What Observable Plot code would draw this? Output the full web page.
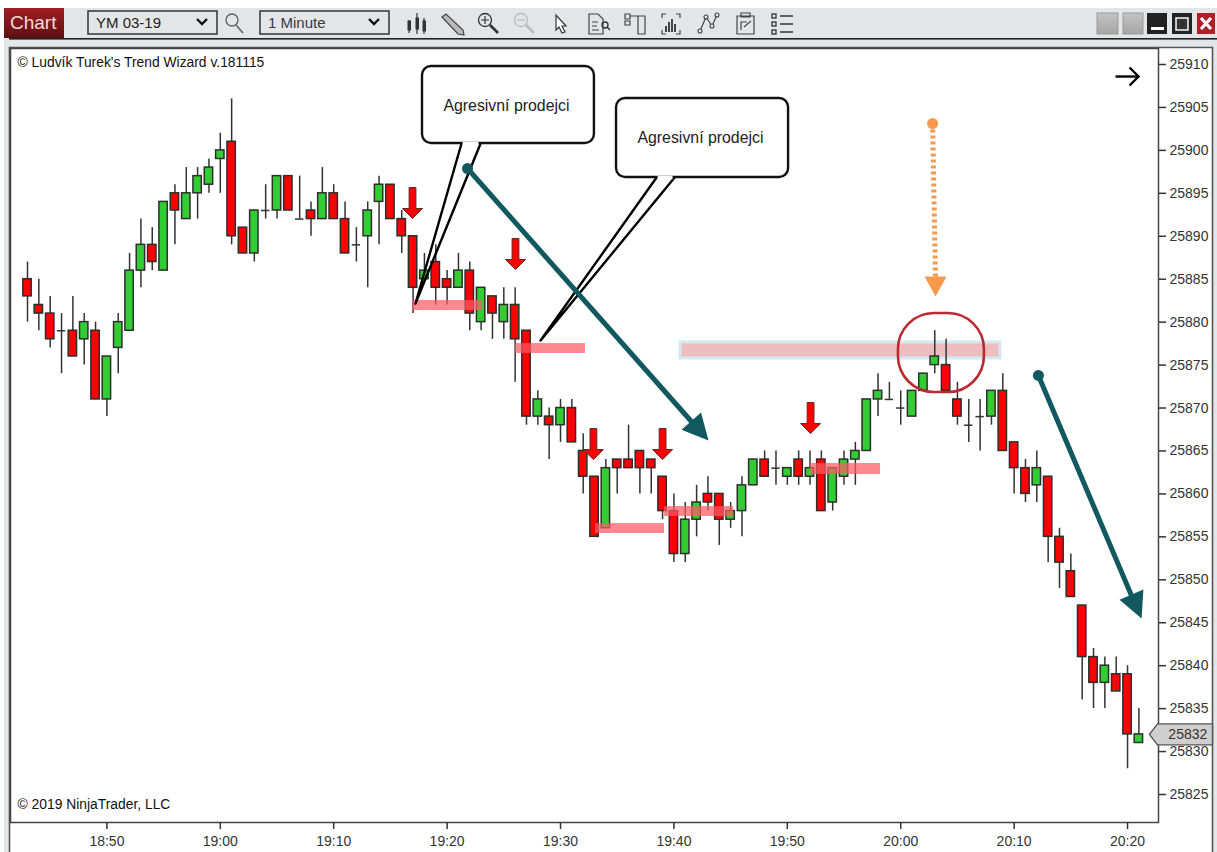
<!DOCTYPE html>
<html>
<head>
<meta charset="utf-8">
<script src="https://cdn.jsdelivr.net/npm/d3@7"></script>
<script src="https://cdn.jsdelivr.net/npm/@observablehq/plot@0.6"></script>
<style>
html,body{margin:0;padding:0;background:#fff;overflow:hidden;width:1217px;height:852px;font-family:"Liberation Sans",Arial,sans-serif}
#chrome{position:absolute;left:0;top:0;width:1217px;height:852px;pointer-events:none}
#plot{position:absolute;left:0;top:48px;width:1217px;height:804px}
#plot svg{display:block}
.t{position:absolute;white-space:nowrap;line-height:1}
</style>
</head>
<body>
<svg id="chrome" width="1217" height="852" xmlns="http://www.w3.org/2000/svg">
  <defs>
    <linearGradient id="btn" x1="0" y1="0" x2="0" y2="1"><stop offset="0" stop-color="#a01e22"/><stop offset="1" stop-color="#5e1013"/></linearGradient>
    <linearGradient id="gb" x1="0" y1="0" x2="0" y2="1"><stop offset="0" stop-color="#c4c4c4"/><stop offset="1" stop-color="#a4a4a4"/></linearGradient>
  </defs>
  <rect x="4" y="8" width="1213" height="40" fill="#e4e5e6"/>
  <rect x="4" y="38" width="1213" height="1.6" fill="#222"/>
  <rect x="4" y="8" width="60" height="30" fill="url(#btn)"/>
  <rect x="88" y="11" width="129" height="23" fill="none" stroke="#333" stroke-width="1.5"/>
  <rect x="260" y="11" width="129" height="23" fill="none" stroke="#333" stroke-width="1.5"/>
  <path d="M197 19l5 5l5-5M369 19l5 5l5-5" fill="none" stroke="#111" stroke-width="2.4"/>
  <circle cx="232" cy="20" r="6" fill="none" stroke="#666" stroke-width="1.4"/><path d="M236 25l7 8" stroke="#666" stroke-width="1.6"/>
  <g fill="#333" stroke="#333"><path d="M409 20v13M417 13v21M424 18v16" stroke-width="1.2"/><rect x="408" y="21" width="2.5" height="9"/><rect x="416" y="18" width="2.5" height="11"/><rect x="423" y="21" width="2.5" height="10"/></g>
  <path d="M442 17l4-3l17 16l1 5l-6-1z" fill="#bbb" stroke="#444" stroke-width="1.2"/>
  <circle cx="485" cy="20" r="6.5" fill="none" stroke="#333" stroke-width="1.3"/><path d="M481 20h8M485 16v8" stroke="#333" stroke-width="1.2"/><path d="M490 25l8 8" stroke="#333" stroke-width="2.6"/>
  <circle cx="521" cy="20" r="6.5" fill="none" stroke="#bbb" stroke-width="1.3"/><path d="M517 20h8" stroke="#bbb" stroke-width="1.2"/><path d="M526 25l8 8" stroke="#bbb" stroke-width="2.6"/>
  <path d="M556 15v15l3-3l3 6l3-1l-3-6h4z" fill="#fff" stroke="#333" stroke-width="1.2"/>
  <path d="M589 14h9l5 5v15h-14zM592 22h6M592 26h5M592 30h7" fill="none" stroke="#444" stroke-width="1.2"/><circle cx="605" cy="25" r="3" fill="none" stroke="#333" stroke-width="1.3"/><path d="M607 27l3 3" stroke="#333" stroke-width="1.5"/>
  <path d="M625 14h5v5h-5zM625 21h5v4h-5zM630 16h15v18h-7v-18" fill="none" stroke="#444" stroke-width="1.2"/>
  <path d="M666 14h-4v4M676 14h4v4M666 34h-4v-4M676 34h4v-4" fill="none" stroke="#444" stroke-width="1.2"/><path d="M666 32v-6M669 32v-10M672 32v-13M675 32v-8" stroke="#333" stroke-width="1.8"/>
  <path d="M700 31l6-14l6 9l5-11" fill="none" stroke="#444" stroke-width="1.2"/><g fill="#e4e5e6" stroke="#444" stroke-width="1.1"><circle cx="700" cy="31" r="2"/><circle cx="706" cy="17" r="2"/><circle cx="712" cy="26" r="2"/><circle cx="717" cy="15" r="2"/></g>
  <path d="M737 16h17v18h-17zM741 13h9v4h-9zM741 30v-8h6M744 27l7-6" fill="none" stroke="#444" stroke-width="1.2"/>
  <g fill="none" stroke="#333" stroke-width="1.3"><rect x="772" y="14" width="4" height="4"/><rect x="772" y="22" width="4" height="4"/><rect x="772" y="30" width="4" height="4"/><path d="M780 16h13M780 24h13M780 32h13"/></g>
  <rect x="1097" y="13" width="21" height="21" fill="url(#gb)" stroke="#999"/>
  <rect x="1123" y="13" width="20" height="21" fill="url(#gb)" stroke="#999"/>
  <rect x="1147" y="13" width="20" height="21" fill="#222"/><rect x="1151" y="27" width="13" height="3" fill="#fff"/>
  <rect x="1172" y="13" width="20" height="21" fill="#222"/><rect x="1176" y="18" width="12" height="12" fill="#333" stroke="#eee" stroke-width="1.6"/>
  <rect x="1197" y="13" width="18" height="21" fill="#ae2028"/><path d="M1201 18l10 11M1211 18l-10 11" stroke="#fff" stroke-width="3.2"/>
  <rect x="4" y="38" width="5" height="814" fill="#e4e5e6"/>
  <rect x="1213" y="48" width="4" height="804" fill="#e4e5e6"/>
  <path d="M9.5 852V47.5H1212.5V852" fill="none" stroke="#555" stroke-width="1.6"/>
</svg>
<div class="t" style="left:10px;top:13px;font-size:19px;color:#f2ddd8">Chart</div>
<div class="t" style="left:96px;top:15px;font-size:15px;color:#222">YM 03-19</div>
<div class="t" style="left:268px;top:15px;font-size:15px;color:#33394a">1 Minute</div>
<div id="plot"></div>
<script>
// Candles, one per minute from 18:43
const firstMinute = 18 * 60 + 43;
const bodyTops = [25885,25882,25881,25879,25879,25880,25879,25876,25880,25886,25889,25889,25894,25895,25895,25897,25898,25900,25901,25891,25893,25893,25897,25897,25892,25893,25895,25895,25892,25889,25893,25896,25896,25892,25890,25886,25887,25885,25886,25886,25884,25883,25882,25882,25879,25871,25869,25870,25870,25865,25862,25863,25864,25864,25865,25864,25862,25858,25857,25859,25860,25860,25858,25861,25864,25864,25863,25863,25864,25863,25864,25863,25864,25865,25871,25872,25871,25870,25872,25874,25876,25875,25871,25868,25869,25872,25872,25866,25863,25863,25862,25855,25851,25847,25841,25840,25839,25839,25832];
const bodyBottoms = [25883,25881,25878,25879,25876,25878,25871,25871,25877,25879,25886,25887,25886,25893,25892,25895,25896,25899,25890,25888,25888,25893,25893,25893,25892,25892,25892,25892,25888,25889,25890,25894,25892,25890,25884,25885,25884,25884,25884,25881,25880,25881,25880,25878,25869,25869,25868,25868,25866,25862,25855,25856,25863,25863,25863,25863,25858,25853,25853,25857,25859,25857,25857,25858,25861,25862,25863,25862,25862,25862,25858,25859,25862,25864,25865,25871,25871,25870,25869,25872,25875,25872,25869,25868,25869,25869,25865,25863,25860,25861,25855,25852,25848,25841,25838,25838,25837,25832,25831];
const highs = [25887,25885,25883,25881,25883,25881,25880,25876,25881,25888,25892,25891,25894,25896,25898,25898,25899,25902,25906,25891,25893,25896,25897,25897,25897,25894,25898,25896,25894,25891,25894,25897,25896,25893,25890,25888,25889,25886,25888,25887,25884,25883,25884,25884,25879,25872,25870,25871,25871,25867,25862,25864,25864,25868,25865,25864,25862,25860,25859,25861,25862,25860,25859,25862,25864,25865,25865,25863,25865,25865,25865,25863,25865,25866,25871,25874,25873,25872,25872,25874,25879,25878,25873,25871,25871,25872,25874,25866,25864,25865,25862,25856,25853,25847,25842,25841,25841,25840,25835];
const lows = [25880,25879,25877,25874,25876,25875,25871,25869,25874,25879,25884,25886,25886,25889,25892,25892,25895,25895,25889,25888,25887,25892,25892,25893,25892,25890,25892,25892,25888,25887,25884,25889,25892,25888,25881,25885,25882,25882,25884,25879,25879,25878,25878,25873,25868,25868,25864,25866,25866,25860,25855,25856,25860,25863,25860,25860,25857,25852,25852,25855,25858,25854,25856,25855,25861,25862,25861,25861,25861,25861,25858,25858,25861,25861,25865,25869,25871,25868,25869,25872,25874,25872,25868,25866,25865,25868,25865,25860,25859,25859,25852,25849,25848,25836,25835,25835,25837,25828,25831];
// 0 red, 1 green, 2 doji
const kinds = [0,0,0,2,0,1,0,1,1,1,1,0,1,0,1,1,1,1,0,0,1,2,1,0,2,0,1,0,0,2,1,1,0,0,0,1,0,0,1,0,1,0,1,0,0,1,0,1,0,0,0,1,0,0,0,0,0,0,1,1,0,0,1,1,1,0,2,1,0,1,0,1,1,1,1,1,2,2,1,1,1,0,0,2,2,1,0,0,0,1,0,0,0,0,0,1,0,0,1];
const candles = kinds.map((kind, i) => ({
  m: firstMinute + i, kind,
  top: bodyTops[i], bottom: bodyBottoms[i], high: highs[i], low: lows[i],
  left: firstMinute + i - 0.37, right: firstMinute + i + 0.37
}));

// Axes
const timeTicks = [1130,1140,1150,1160,1170,1180,1190,1200,1210,1220];
const priceTicks = [25910,25905,25900,25895,25890,25885,25880,25875,25870,25865,25860,25855,25850,25845,25840,25835,25830,25825];
const lastPrice = 25832;
const fmtTime = m => `${Math.floor(m / 60)}:${String(m % 60).padStart(2, "0")}`;

// Annotations, in chart coordinates (minute, price)
const zones = [
  {x1:1156.95,x2:1163.12,y1:25881.35,y2:25882.52},
  {x1:1166.03,x2:1172.2,y1:25876.35,y2:25877.51},
  {x1:1173.08,x2:1179.17,y1:25855.39,y2:25856.55},
  {x1:1179.17,x2:1185.26,y1:25857.37,y2:25858.53},
  {x1:1192.05,x2:1198.22,y1:25862.26,y2:25863.54}
];
const band = [{x1:1180.58,x2:1208.8,y1:25875.77,y2:25877.63}];
const ring = [{x1:1199.8,x2:1207.38,y1:25871.8,y2:25881}];
const redArrows = [
  {m:1156.95,v:25892.07},{m:1166.03,v:25886.13},{m:1172.9,v:25864},{m:1179,v:25864},{m:1192.05,v:25867.03}
];
const bubbles = [
  {x1:1157.83,x2:1172.99,y1:25900.8,y2:25909.77,tx:1165.23,ty:25905.23,label:"Agresivní prodejci"},
  {x1:1174.94,x2:1190.11,y1:25896.84,y2:25906.04,tx:1182.34,ty:25901.5,label:"Agresivní prodejci"}
];
const tails = [
  [{m:1161.27,v:25900.8},{m:1157.21,v:25882.17},{m:1162.95,v:25900.8}],
  [{m:1178.47,v:25896.84},{m:1168.24,v:25877.86},{m:1180.06,v:25896.84}]
];
const tealArrows = [
  {x1:1161.8,y1:25897.89,x2:1182.09,y2:25867.62,tx:1183.05,ty:25866.22,rotate:138.5},
  {x1:1212.14,y1:25873.79,x2:1220.53,y2:25847.59,tx:1221.24,ty:25845.49,rotate:157}
];
const orangeArrow = [{x1:1202.81,y1:25903.13,x2:1203.07,y2:25885.08,tx:1203.07,ty:25882.99,rotate:180}];
const directionArrow = [{x1:1218.94,x2:1220.97,y:25908.6}];
const priceFlag = [{m:1221.93,v:25832},{m:1222.64,v:25833.22},{m:1227.49,v:25833.22},{m:1227.49,v:25830.78},{m:1222.64,v:25830.78},{m:1221.93,v:25832}];
const notes = [
  {m:1122.12,v:25910.23,text:"© Ludvík Turek's Trend Wizard v.181115"},
  {m:1122.12,v:25823.83,text:"© 2019 NinjaTrader, LLC"}
];

const tip = (w, h) => ({draw(c) { c.moveTo(0, 0); c.lineTo(w, h); c.lineTo(-w, h); c.closePath(); }});
const chevron = {draw(c) { c.moveTo(-9, -9); c.lineTo(0, 0); c.lineTo(-9, 9); }};
const blockArrow = {draw(c) {
  c.moveTo(0, 0); c.lineTo(10, -10); c.lineTo(3.4, -10); c.lineTo(3.4, -31); c.lineTo(-3.4, -31); c.lineTo(-3.4, -10); c.lineTo(-10, -10); c.closePath();
}};
const teal = "#11595f", orange = "#f59a4c", cf = "Liberation Sans";

const chart = Plot.plot({
  width: 1217, height: 804,
  marginLeft: 10, marginRight: 59, marginTop: 0, marginBottom: 30,
  x: {domain: [1121.5, 1222.73]},
  y: {domain: [25821.74, 25911.863]},
  style: {fontFamily: cf, fontSize: "14px", color: "#333", background: "transparent", overflow: "visible"},
  marks: [
    Plot.frame({stroke: "#444", strokeWidth: 1.5}),
    Plot.axisY({anchor: "right", ticks: priceTicks, tickFormat: "d", tickSize: 7, tickPadding: 4, label: null, strokeWidth: 1.5, stroke: "#333"}),
    Plot.axisX({ticks: timeTicks, tickFormat: fmtTime, tickSize: 7, tickPadding: 7, label: null, strokeWidth: 1.5, stroke: "#333"}),
    // resistance band sits behind the candles
    Plot.rect(band, {x1: "x1", x2: "x2", y1: "y1", y2: "y2", fill: "#edbdbf", stroke: "#d3e8ef", strokeWidth: 3}),
    // wicks
    Plot.ruleX(candles, {x: "m", y1: "low", y2: "high", stroke: "#333", strokeWidth: 1.5}),
    // bodies
    Plot.rect(candles.filter(d => d.kind === 0), {x1: "left", x2: "right", y1: "bottom", y2: "top", fill: "#ff0000", stroke: "#2e2e2e", strokeWidth: 1.5}),
    Plot.rect(candles.filter(d => d.kind === 1), {x1: "left", x2: "right", y1: "bottom", y2: "top", fill: "#32cd32", stroke: "#2e2e2e", strokeWidth: 1.5}),
    Plot.ruleY(candles.filter(d => d.kind === 2), {y: "top", x1: "left", x2: "right", stroke: "#333", strokeWidth: 1.5}),
    // last price flag
    Plot.line(priceFlag, {x: "m", y: "v", fill: "#cfcfcf", stroke: "#555", strokeWidth: 1.4, clip: false}),
    Plot.text([lastPrice], {x: 1223.6, y: d => d, text: d => String(d), textAnchor: "start", fontSize: 14, fill: "#333"}),
    // zones
    Plot.rect(zones, {x1: "x1", x2: "x2", y1: "y1", y2: "y2", fill: "#ff5a64", fillOpacity: 0.72}),
    // red down arrows
    Plot.dot(redArrows, {x: "m", y: "v", symbol: blockArrow, fill: "#ff0000", stroke: "#5a2a2a", strokeWidth: 1}),
    // circle
    Plot.rect(ring, {x1: "x1", x2: "x2", y1: "y1", y2: "y2", fill: "none", stroke: "#bb2a30", strokeWidth: 2.6, rx: 36}),
    // callouts
    ...tails.map(t => Plot.line(t, {x: "m", y: "v", stroke: "#000", strokeWidth: 2.4})),
    Plot.rect(bubbles, {x1: "x1", x2: "x2", y1: "y1", y2: "y2", fill: "#fff", stroke: "#111", strokeWidth: 2.4, rx: 9}),
    ...tails.map(t => Plot.ruleY([t[0].v], {x1: t[0].m + 0.14, x2: t[2].m - 0.14, stroke: "#fff", strokeWidth: 3.4})),
    Plot.text(bubbles, {x: "tx", y: "ty", text: "label", fontSize: 17, fill: "#222"}),
    // teal arrows
    Plot.link(tealArrows, {x1: "x1", y1: "y1", x2: "x2", y2: "y2", stroke: teal, strokeWidth: 5}),
    Plot.dot(tealArrows, {x: "x1", y: "y1", r: 5.5, fill: teal}),
    Plot.dot(tealArrows, {x: "tx", y: "ty", rotate: "rotate", symbol: tip(13, 26), fill: teal}),
    // orange arrow
    Plot.link(orangeArrow, {x1: "x1", y1: "y1", x2: "x2", y2: "y2", stroke: orange, strokeWidth: 5, strokeDasharray: "3 3"}),
    Plot.dot(orangeArrow, {x: "x1", y: "y1", r: 5.5, fill: orange}),
    Plot.dot(orangeArrow, {x: "tx", y: "ty", rotate: "rotate", symbol: tip(11, 20), fill: orange}),
    // direction arrow
    Plot.link(directionArrow, {x1: "x1", x2: "x2", y1: "y", y2: "y", stroke: "#000", strokeWidth: 2.4}),
    Plot.dot(directionArrow, {x: "x2", y: "y", symbol: chevron, fill: "none", stroke: "#000", strokeWidth: 2.4}),
    // notes
    Plot.text(notes, {x: "m", y: "v", text: "text", textAnchor: "start", fontSize: 13.85, fill: "#111"})
  ]
});
// The callout text is set in a condensed face in the reference
d3.select(chart).selectAll("text")
  .filter(function () { return this.textContent === bubbles[0].label; })
  .attr("textLength", 126).attr("lengthAdjust", "spacingAndGlyphs");
document.getElementById("plot").appendChild(chart);
</script>
</body>
</html>
